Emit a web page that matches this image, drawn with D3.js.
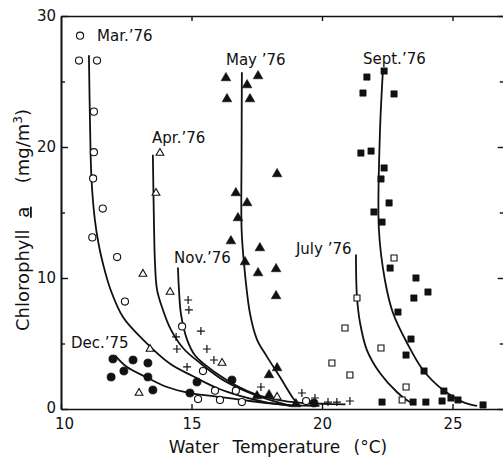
<!DOCTYPE html>
<html>
<head>
<meta charset="utf-8">
<script src="https://cdn.jsdelivr.net/npm/d3@7"></script>
<style>
  body { margin: 0; background: #fff; }
  svg { display: block; }
  text { font-family: "DejaVu Sans", sans-serif; fill: #111; }
</style>
</head>
<body>
<svg id="chart" width="503" height="458"></svg>
<script>
// Tick values
const xTicks = [10, 15, 20, 25];
const yMajorTicks = [0, 10, 20, 30];
const yMinorTicks = [5, 15, 25];

// Observations: [water temperature (°C), chlorophyll a (mg/m3)]
const dec75 = [[11.99,3.82],[11.92,2.44],[12.41,2.90],[12.76,3.74],[13.33,3.51],[13.33,2.44],
  [13.52,1.45],[14.94,1.22],[15.21,2.06],[16.55,2.21],[19.69,0.46]];
const mar76 = [[10.73,28.5],[10.69,26.6],[11.38,26.6],[11.26,22.7],[11.26,19.6],[11.23,17.6],
  [11.6,15.3],[11.2,13.1],[12.15,11.6],[12.45,8.2],[14.64,6.3],[15.44,2.9],[15.9,1.4],
  [16.7,1.4],[15.25,0.76],[16.09,0.69],[16.93,0.53],[19.39,0.61]];
const apr76 = [[13.79,19.54],[13.64,16.49],[13.14,10.31],[14.18,8.93],[13.41,4.58],
  [12.99,1.22],[16.17,3.51],[18.28,0.92]];
const may76 = [[16.32,25.27],[17.55,25.42],[17.13,24.73],[16.36,23.66],[17.24,23.66],
  [18.28,17.94],[16.70,16.49],[17.13,15.73],[16.78,14.58],[16.51,12.82],[17.62,12.29],
  [17.05,11.22],[17.55,10.38],[18.24,10.69],[18.24,8.63],[18.28,3.13],[17.97,2.60],
  [17.51,0.99],[17.97,1.07],[19.00,0.38]];
const jul76 = [[22.76,11.53],[21.34,8.47],[20.88,6.18],[20.38,3.51],[22.26,4.66],
  [21.07,2.60],[23.22,1.68],[23.07,0.69]];
const sep76 = [[22.38,25.80],[21.72,25.34],[21.57,24.12],[22.76,24.05],[21.49,19.54],
  [21.88,19.69],[22.38,18.40],[22.26,17.56],[22.57,15.73],[21.99,15.04],[22.30,14.27],
  [22.61,10.76],[23.60,10.00],[24.06,8.93],[23.52,8.47],[22.91,7.40],[23.41,5.34],
  [23.22,4.12],[23.91,2.90],[24.67,1.37],[24.94,0.84],[25.21,0.69],[22.30,0.53],
  [23.49,0.53],[23.98,0.53],[24.60,0.61],[26.17,0.31]];
const nov76 = [[14.87,8.32],[14.90,7.56],[14.41,5.50],[15.36,5.95],[14.44,4.58],[15.59,4.58],
  [15.86,3.74],[14.83,3.21],[17.66,1.68],[19.23,1.22],[19.73,0.84],[20.23,0.53],
  [20.57,0.53],[21.07,0.61]];

// Fitted decline curves for each month
const dec75Fit = [[12.07,4.1],[12.53,3.2],[13.33,2.37],[14.06,1.68],[14.94,1.22],[15.82,0.99],
  [17.24,0.61],[18.77,0.3],[19.9,0.25]];
const mar76Fit = [[11.07,27.0],[11.11,22.0],[11.17,17.5],[11.3,14.4],[11.45,12.5],[11.62,11.0],
  [11.9,9.1],[12.38,7.0],[13.14,5.3],[14.18,3.45],[15.06,2.5],[15.98,1.6],[16.86,1.0],
  [17.82,0.53],[18.85,0.23]];
const apr76Fit = [[13.52,19.4],[13.56,14.4],[13.6,11.2],[13.68,9.1],[13.9,7.6],[14.2,6.1],
  [14.7,4.6],[15.4,3.4],[16.3,2.1],[17.4,1.1],[18.8,0.23]];
const may76Fit = [[16.93,25.7],[16.92,20.0],[16.92,13.7],[17.01,11.15],[17.24,7.3],[17.51,5.3],
  [17.89,4.0],[18.39,2.44],[18.9,0.8],[19.15,0.2]];
const jul76Fit = [[21.3,11.8],[21.34,8.55],[21.46,6.56],[21.72,4.5],[22.22,2.75],[22.87,1.3],
  [23.37,0.53],[23.5,0.45]];
const sep76Fit = [[22.34,26.0],[22.22,21.1],[22.18,13.7],[22.41,9.85],[22.72,7.33],[23.26,5.04],
  [23.87,2.98],[24.64,1.45],[25.4,0.53],[25.94,0.23]];
const nov76Fit = [[14.48,10.8],[14.52,9.1],[14.6,7.2],[14.83,5.3],[15.13,4.1],[15.44,3.5],
  [16.36,2.2],[17.36,1.2],[18.3,0.7],[19.2,0.47],[20.0,0.4],[20.9,0.35]];

// Month labels, anchored in data units
const monthLabels = [
  {text: "Mar.\u201976", t: 11.38, c: 28.09},
  {text: "Apr.\u201976", t: 13.49, c: 20.31},
  {text: "May \u201976", t: 16.32, c: 26.26},
  {text: "Sept.\u201976", t: 21.57, c: 26.34},
  {text: "Nov.\u201976", t: 14.33, c: 11.15},
  {text: "July \u201976", t: 19.00, c: 11.83},
  {text: "Dec.\u201975", t: 10.38, c: 4.66}
];

const svg = d3.select("#chart");
const x = d3.scaleLinear().domain([10, 27]).range([61, 61 + 17 * 26.1]);
const y = d3.scaleLinear().domain([0, 30]).range([409, 16]);

// Frame and ticks (all ticks point into the plot)
const axisStyle = g => {
  g.selectAll("path.domain").attr("stroke", "#111").attr("stroke-width", 1.6);
  g.selectAll(".tick line").attr("stroke", "#111").attr("stroke-width", 1.4);
  g.selectAll(".tick text").style("font-family", "DejaVu Sans, sans-serif")
    .style("font-size", "15px").attr("fill", "#111");
};

const xAxisG = svg.append("g").attr("transform", `translate(0,${y(0)})`)
  .call(d3.axisBottom(x).tickValues(xTicks).tickSize(-5).tickSizeOuter(0).tickPadding(9))
  .call(axisStyle);
// the corner label sits just right of the frame corner
xAxisG.selectAll(".tick text").filter(d => d === 10).attr("dx", 3);

svg.append("g").attr("transform", `translate(0,${y(30)})`)
  .call(d3.axisTop(x).tickValues(xTicks.slice(1)).tickSize(-5).tickSizeOuter(0).tickFormat(""))
  .call(axisStyle);
const yAxisG = svg.append("g").attr("transform", `translate(${x(10)},0)`)
  .call(d3.axisLeft(y).tickValues(yMajorTicks).tickSize(-7).tickSizeOuter(0).tickPadding(5))
  .call(axisStyle);
yAxisG.selectAll(".tick text").filter(d => d === 0).attr("dy", "0.2em");

svg.append("g").attr("transform", `translate(${x(10)},0)`)
  .call(d3.axisLeft(y).tickValues(yMinorTicks).tickSize(-4).tickSizeOuter(0).tickFormat(""))
  .call(axisStyle);
svg.append("g").attr("transform", `translate(${x(27)},0)`)
  .call(d3.axisRight(y).tickValues(yMajorTicks).tickSize(-7).tickSizeOuter(0).tickFormat(""))
  .call(axisStyle);
svg.append("g").attr("transform", `translate(${x(27)},0)`)
  .call(d3.axisRight(y).tickValues(yMinorTicks).tickSize(-5).tickSizeOuter(0).tickFormat(""))
  .call(axisStyle);

// Curves
const line = d3.line().x(d => x(d[0])).y(d => y(d[1])).curve(d3.curveCatmullRom.alpha(0.5));
[dec75Fit, mar76Fit, apr76Fit, may76Fit, jul76Fit, sep76Fit, nov76Fit].forEach(c => {
  svg.append("path").attr("d", line(c)).attr("fill", "none")
    .attr("stroke", "#111").attr("stroke-width", 1.8);
});

// Markers
const sym = (type, size) => d3.symbol().type(type).size(size)();
function plotSymbols(data, type, size, filled) {
  svg.append("g").selectAll("path").data(data).join("path")
    .attr("transform", d => `translate(${x(d[0])},${y(d[1])})`)
    .attr("d", sym(type, size))
    .attr("fill", filled ? "#111" : "#fff")
    .attr("stroke", "#111").attr("stroke-width", filled ? 0.6 : 1.1);
}
plotSymbols(mar76, d3.symbolCircle, 40, false);
plotSymbols(dec75, d3.symbolCircle, 52, true);
plotSymbols(apr76, d3.symbolTriangle, 26, false);
plotSymbols(may76, d3.symbolTriangle, 40, true);
plotSymbols(jul76, d3.symbolSquare, 36, false);
plotSymbols(sep76, d3.symbolSquare, 40, true);

// Plus markers
svg.append("g").selectAll("path").data(nov76).join("path")
  .attr("d", d => `M${x(d[0]) - 4},${y(d[1])}H${x(d[0]) + 4}M${x(d[0])},${y(d[1]) - 4}V${y(d[1]) + 4}`)
  .attr("stroke", "#111").attr("stroke-width", 1.2).attr("fill", "none");

// Month labels
svg.append("g").selectAll("text").data(monthLabels).join("text")
  .attr("x", d => x(d.t)).attr("y", d => y(d.c))
  .style("font-size", "15px").text(d => d.text);

// Axis titles
svg.append("text").attr("x", 278).attr("y", 453).attr("text-anchor", "middle")
  .style("font-size", "17px").style("word-spacing", "8px")
  .text("Water Temperature (\u00B0C)");

const yTitle = svg.append("text")
  .attr("transform", "translate(29,220) rotate(-90)")
  .attr("text-anchor", "middle").style("font-size", "18px").style("word-spacing", "6px");
yTitle.append("tspan").text("Chlorophyll ");
yTitle.append("tspan").style("text-decoration", "underline").text("a");
yTitle.append("tspan").text("\u00A0 (mg/m");
yTitle.append("tspan").attr("dy", -7).style("font-size", "12px").text("3");
yTitle.append("tspan").attr("dy", 7).text(")");
</script>
</body>
</html>
